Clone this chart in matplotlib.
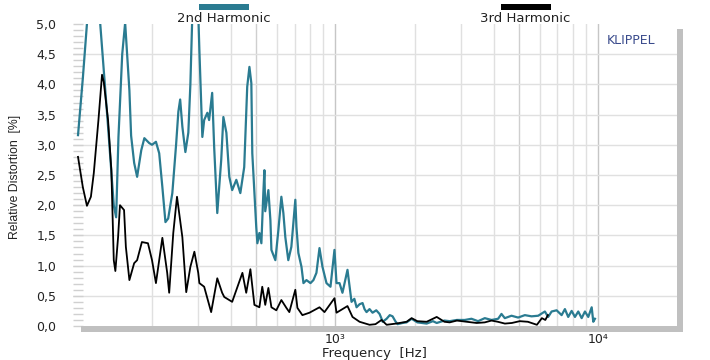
import matplotlib
matplotlib.use("Agg")
import matplotlib.pyplot as plt
from matplotlib.patches import Rectangle
from matplotlib.ticker import FixedLocator, FixedFormatter, MultipleLocator, FuncFormatter

# 2nd harmonic (teal), frequency in Hz / distortion in %
h2_freq = [
    104.5, 109, 113, 120, 127, 136, 143, 146, 149, 154, 158, 164, 166.5, 171, 175.5,
    182, 187, 195, 200, 207, 213, 219, 225, 230.5, 239, 247, 252, 256, 261, 268, 275,
    280, 285, 292, 300, 303, 311, 316, 325, 330, 339, 345, 354.5, 367, 374, 384, 394,
    404, 419, 434, 449, 461, 470, 478, 482, 499, 504, 513, 522, 531, 536, 540, 555,
    565, 570, 590, 606, 622, 633, 644, 661, 679, 703, 710, 722, 742, 755, 775, 803,
    824, 846, 869, 892, 924, 957, 991, 1009, 1036, 1063, 1111, 1151, 1180, 1203, 1235,
    1268, 1290, 1313, 1348, 1384, 1430, 1472, 1498, 1512, 1566, 1610, 1650, 1690, 1724,
    1800, 1866, 1950, 2050, 2225, 2350, 2430, 2600, 2723, 2900, 3108, 3296, 3492, 3705,
    3930, 4165, 4289, 4416, 4684, 4963, 5266, 5584, 5918, 6276, 6460, 6658, 6957, 7269,
    7482, 7702, 7937, 8171, 8411, 8667, 8920, 9183, 9463, 9596, 9739,
]
h2_vals = [
    3.16, 4.1, 5.0, 6.3, 5.0, 3.3, 2.0, 1.8, 3.13, 4.5, 5.02, 3.9, 3.15, 2.7, 2.47,
    2.91, 3.11, 3.03, 3.0, 3.05, 2.86, 2.3, 1.72, 1.78, 2.2, 3.0, 3.55, 3.75, 3.3, 2.88, 3.2,
    4.0, 5.2, 6.8, 5.2, 4.57, 3.13, 3.41, 3.53, 3.41, 3.86, 2.96, 1.87, 2.75, 3.46, 3.2, 2.47,
    2.25, 2.42, 2.2, 2.63, 3.96, 4.29, 4.02, 2.86, 1.64, 1.37, 1.54, 1.37, 2.2, 2.58, 1.9, 2.25,
    1.75, 1.26, 1.09, 1.59, 2.14, 1.87, 1.47, 1.09, 1.31, 2.09, 1.64, 1.21, 0.98, 0.71, 0.76, 0.71,
    0.76, 0.88, 1.29, 0.98, 0.71, 0.65, 1.26, 0.71, 0.71, 0.55, 0.93, 0.40, 0.45, 0.31, 0.36,
    0.38, 0.28, 0.23, 0.28, 0.22, 0.26, 0.20, 0.12, 0.07, 0.12, 0.18, 0.16, 0.08, 0.03,
    0.05, 0.06, 0.12, 0.06, 0.04, 0.08, 0.05, 0.09, 0.08, 0.10, 0.10, 0.12, 0.08, 0.13,
    0.10, 0.12, 0.20, 0.13, 0.17, 0.14, 0.18, 0.16, 0.17, 0.24, 0.15, 0.24, 0.26, 0.18,
    0.28, 0.15, 0.25, 0.15, 0.24, 0.13, 0.24, 0.15, 0.31, 0.07, 0.12,
]

# 3rd harmonic (black)
h3_freq = [
    104.5, 109, 113, 117, 120, 125, 129, 131, 136, 140, 143, 145, 148.5, 151, 156.5,
    159, 164, 171, 175.5, 183, 193, 200, 207, 219, 228.5, 232.5, 241, 249, 261, 270,
    280, 290, 300, 303, 316, 336, 354.5, 370, 377, 404, 442, 457, 474, 491, 513, 526,
    540, 555, 570, 595, 622, 650, 667, 703, 716, 748, 796, 869, 908, 991, 1009, 1111,
    1161, 1235, 1348, 1420, 1498, 1566, 1700, 1866, 1950, 2050, 2225, 2430, 2600, 2723,
    2900, 3162, 3450, 3705, 3930, 4153, 4420, 4697, 5036, 5406, 5852, 6113, 6300, 6446,
]
h3_vals = [
    2.80, 2.3, 1.99, 2.14, 2.53, 3.41, 4.16, 4.04, 3.41, 2.58, 1.09, 0.91, 1.47, 2.0, 1.92,
    1.31, 0.76, 1.04, 1.09, 1.39, 1.37, 1.09, 0.71, 1.46, 0.88, 0.55, 1.54, 2.14, 1.47, 0.56,
    0.98, 1.23, 0.88, 0.71, 0.65, 0.23, 0.79, 0.55, 0.48, 0.40, 0.88, 0.55, 0.94, 0.35, 0.31, 0.65,
    0.35, 0.63, 0.31, 0.26, 0.43, 0.30, 0.23, 0.60, 0.30, 0.18, 0.22, 0.31, 0.23, 0.46, 0.22, 0.33,
    0.15, 0.07, 0.02, 0.03, 0.10, 0.02, 0.04, 0.07, 0.13, 0.08, 0.07, 0.15, 0.07, 0.06,
    0.09, 0.07, 0.05, 0.06, 0.09, 0.07, 0.04, 0.05, 0.08, 0.07, 0.02, 0.13, 0.10, 0.18,
]

teal = "#2a7b91"
W, H = 710, 360

fig = plt.figure(figsize=(7.1, 3.6), dpi=100)
fig.patch.set_facecolor("white")

# grey drop shadow of the plot area
fig.patches.append(Rectangle((81 / W, 28 / H), 602 / W, 6 / H, transform=fig.transFigure,
                             facecolor="#c0c0c0", edgecolor="none", zorder=0))
fig.patches.append(Rectangle((677 / W, 28 / H), 6 / W, 303 / H, transform=fig.transFigure,
                             facecolor="#c0c0c0", edgecolor="none", zorder=0))

ax = fig.add_axes([73 / W, 34 / H, 604 / W, 302 / H])
ax.set_facecolor("white")
for s in ax.spines.values():
    s.set_visible(False)

ax.set_xscale("log")
ax.set_xlim(100, 20000)
ax.set_ylim(0, 5)

# grid
minor = [m * 10 ** e for e in (2, 3) for m in range(2, 10)]
for f in minor:
    dark = f in (500, 5000)
    ax.axvline(f, color="#cfcfcf" if dark else "#e0e0e0", lw=1, zorder=1)
for f in (1000, 10000):
    ax.axvline(f, color="#c6c6c6", lw=1, zorder=1)
for v in [i * 0.5 for i in range(1, 10)]:
    ax.axhline(v, color="#e0e0e0", lw=1, zorder=1)

ax.plot(h2_freq, h2_vals, color=teal, lw=1.6, zorder=3)
ax.plot(h3_freq, h3_vals, color="black", lw=1.3, zorder=4)

ax.xaxis.set_major_locator(FixedLocator([1000, 10000]))
ax.xaxis.set_major_formatter(FixedFormatter(["10³", "10⁴"]))
ax.xaxis.set_minor_locator(FixedLocator([]))
ax.tick_params(axis="x", length=0, pad=5, labelsize=9, labelcolor="#222")

ax.yaxis.set_major_locator(MultipleLocator(0.5))
ax.yaxis.set_minor_locator(MultipleLocator(0.1))
ax.yaxis.set_major_formatter(FuncFormatter(lambda v, p: f"{v:.1f}".replace(".", ",")))
ax.tick_params(axis="y", which="both", direction="in", length=7, color="#d0d0d0",
               width=1, pad=12, labelsize=9, labelcolor="#222")

txt = dict(family="DejaVu Sans", color="#222")
fig.text(374 / W, 1 - 353 / H, "Frequency  [Hz]", ha="center", va="center", fontsize=9.5, **txt)
fig.text(15 / W, 1 - 177 / H, "Relative Distortion  [%]", ha="center", va="center",
         rotation=90, fontsize=8.8, family="Liberation Sans", color="#222")

# legend at the top
fig.patches.append(Rectangle((199 / W, 1 - 10 / H), 50 / W, 6 / H, transform=fig.transFigure,
                             facecolor=teal, edgecolor="none"))
fig.text(224 / W, 1 - 18 / H, "2nd Harmonic", ha="center", va="center", fontsize=9.5, **txt)
fig.patches.append(Rectangle((501 / W, 1 - 10 / H), 50 / W, 6 / H, transform=fig.transFigure,
                             facecolor="black", edgecolor="none"))
fig.text(525 / W, 1 - 18 / H, "3rd Harmonic", ha="center", va="center", fontsize=9.5, **txt)

fig.text(631 / W, 1 - 40 / H, "KLIPPEL", ha="center", va="center", fontsize=9,
         family="DejaVu Sans", color="#3a4b8c")

fig.savefig("out.png", dpi=100)
